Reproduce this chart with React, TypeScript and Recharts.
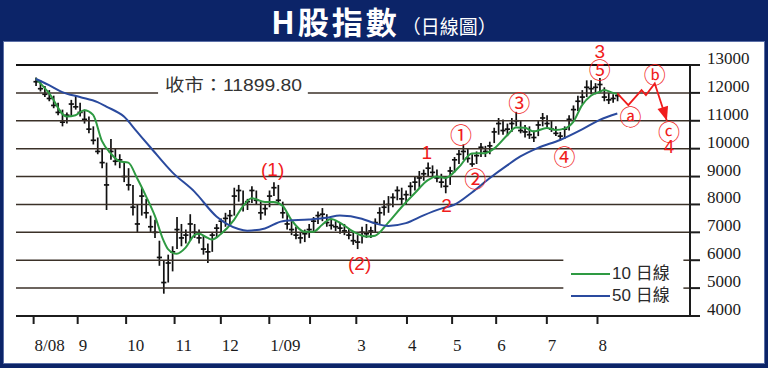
import { ComposedChart, Bar, Line, XAxis, YAxis, ReferenceLine, ReferenceDot, Legend } from 'recharts';

// x axis is counted in trading days from 1 Aug 2008
const monthT = [-1, 19, 41, 63, 84, 106, 124.5, 145.5, 168.5, 189, 209, 232, 255];
const monthLabel = ['8/08', '9', '10', '11', '12', '1/09', '', '3', '4', '5', '6', '7', '8'];
const priceTicks = [4000, 5000, 6000, 7000, 8000, 9000, 10000, 11000, 12000, 13000];

// one bar for every two trading days
const barStep = 2;
const barHigh = [
  12550, 12450, 12250, 12100, 11900, 11650, 11400, 11300, 11750, 11900,
  11650, 11400, 11150, 10800, 10400, 10000, 9500, 10350, 10000, 9800,
  9500, 9300, 8700, 8000, 8600, 8200, 7600, 7450, 6700, 6000,
  6200, 6500, 7550, 7300, 7100, 7650, 7300, 7100, 6900, 6600,
  7000, 7300, 7500, 7700, 7800, 8600, 8700, 8500, 8200, 8650,
  8500, 8100, 8000, 8500, 8800, 8700, 8100, 7700, 7400, 7200,
  7000, 7100, 7300, 7550, 7750, 7870, 7650, 7450, 7400, 7350,
  7300, 7150, 7000, 6900, 7200, 7300, 7200, 7500, 7900, 8150,
  8300, 8400, 8650, 8600, 8500, 8800, 9000, 9200, 9250, 9500,
  9400, 9250, 9100, 8950, 9350, 9700, 9950, 10150, 10000, 9800,
  9900, 10200, 10100, 10250, 10750, 11100, 11050, 10900, 11100, 11320,
  11000, 10850, 10800, 10650, 11000, 11280, 11200, 11000, 10800, 10600,
  10800, 11200, 11550, 11900, 12100, 12450, 12450, 12350, 12530, 12200,
  12000, 11950, 12000,
];
const barLow = [
  12250, 12050, 11850, 11700, 11450, 11200, 10800, 10900, 11150, 11400,
  11150, 10900, 10550, 10150, 9800, 9300, 7800, 9600, 9400, 9300,
  8800, 8500, 7600, 7000, 7600, 7500, 7000, 6800, 5800, 4800,
  5200, 5600, 6400, 6500, 6600, 6700, 6800, 6600, 6200, 5900,
  6300, 6800, 7000, 7200, 7300, 7600, 8100, 7750, 7800, 8050,
  8000, 7450, 7600, 7900, 8300, 8000, 7500, 7100, 6900, 6750,
  6600, 6650, 6800, 7000, 7300, 7400, 7200, 7100, 7050, 6950,
  6900, 6750, 6550, 6400, 6600, 6800, 6800, 7000, 7300, 7600,
  7700, 7900, 8150, 8000, 8000, 8300, 8500, 8600, 8850, 9000,
  9000, 8800, 8600, 8400, 8700, 9150, 9450, 9600, 9500, 9350,
  9450, 9700, 9700, 9800, 10200, 10500, 10500, 10450, 10600, 10800,
  10550, 10400, 10350, 10240, 10450, 10800, 10750, 10600, 10450, 10300,
  10350, 10650, 11000, 11350, 11600, 11850, 11950, 11950, 12000, 11700,
  11600, 11650, 11700,
];
const barClose = [
  12400, 12150, 11950, 11800, 11550, 11300, 10950, 11200, 11600, 11500,
  11300, 11050, 10700, 10300, 9900, 9500, 8700, 9900, 9550, 9600,
  9000, 8700, 7900, 7300, 8300, 7700, 7200, 7000, 6100, 5200,
  5900, 6300, 7100, 6800, 6900, 7300, 7000, 6800, 6400, 6300,
  6900, 7150, 7400, 7500, 7600, 8300, 8500, 8000, 8100, 8500,
  8150, 7700, 7850, 8300, 8600, 8150, 7700, 7300, 7100, 6900,
  6800, 6950, 7100, 7400, 7600, 7650, 7350, 7250, 7200, 7150,
  7050, 6900, 6700, 6650, 7000, 6950, 7050, 7350, 7700, 7900,
  8000, 8250, 8500, 8200, 8350, 8650, 8800, 8950, 9100, 9300,
  9150, 8950, 8800, 8650, 9200, 9600, 9800, 9900, 9650, 9450,
  9750, 10050, 9900, 10100, 10600, 10900, 10650, 10700, 10900, 11000,
  10650, 10600, 10500, 10400, 10850, 11100, 10900, 10700, 10550, 10450,
  10700, 11050, 11400, 11700, 11850, 12200, 12150, 12200, 12300, 11850,
  11750, 11800, 11900,
];

// 10-day average
const ma10T = [0, 6, 14, 18, 22, 26, 30, 34, 38, 42, 46, 50, 54, 58, 60, 64, 68, 72, 74, 78, 80, 84, 90, 94, 98, 104, 108, 112, 116, 122, 126, 130, 134, 138, 144, 150, 154, 160, 166, 172, 178, 182, 186, 192, 198, 204, 208, 214, 218, 222, 226, 232, 236, 240, 244, 248, 252, 256, 258, 262, 264];
const ma10V = [12520, 11990, 11150, 11200, 11380, 11210, 10280, 9830, 9550, 9500, 8940, 8300, 7600, 6700, 6400, 6230, 6450, 6900, 6950, 6800, 6740, 6940, 7450, 7930, 8220, 8090, 8090, 7950, 7450, 7020, 7020, 7270, 7480, 7350, 7030, 6850, 6880, 7350, 7900, 8400, 8870, 9000, 8950, 9330, 9830, 9840, 10000, 10480, 10760, 10750, 10620, 10740, 10670, 10720, 10960, 11560, 11900, 12040, 12100, 12000, 11960];

// 50-day average
const ma50T = [0, 6, 12, 20, 28, 32, 40, 46, 52, 62, 72, 82, 92, 96, 104, 112, 124, 132, 138, 148, 154, 160, 168, 176, 184, 190, 198, 206, 214, 220, 228, 238, 248, 256, 264];
const ma50V = [12500, 12280, 12030, 11850, 11670, 11510, 11150, 10600, 10050, 9150, 8460, 7570, 7120, 7060, 7140, 7400, 7460, 7520, 7600, 7490, 7320, 7230, 7330, 7610, 7850, 7990, 8430, 8940, 9400, 9720, 10030, 10310, 10690, 11030, 11260];

// projected a-b-c wave (red)
const waveT = [264, 269, 275, 277, 281, 286.5];
const waveV = [11980, 11560, 12100, 11920, 12340, 11000];

// wave count marks
const noteT = [256, 256, 281, 270, 287.5, 287.5, 219.5, 240, 193, 199.5, 177.5, 186.5, 107.5, 147];
const noteV = [13480, 12890, 12730, 11210, 10670, 10080, 11710, 9770, 10560, 8970, 9850, 7950, 9250, 5870];
const noteText = ['3', '⑤', 'ⓑ', 'ⓐ', 'ⓒ', '4', '③', '④', '①', '②', '1', '2', '(1)', '(2)'];

const closeText = '收市：11899.80';
const closeT = 58.7;
const closeV = 12280;

const INK = '#1c1c1c';
const GRID = '#3b3128';
const RED = '#f01c1c';
const GREEN = '#2e9a42';
const BLUE = '#2a4a9e';
const SANS = "'Liberation Sans', 'Noto Sans CJK TC', sans-serif";
const SERIF = "'Liberation Serif', serif";
const CJK = "'Noto Sans CJK TC', 'Noto Sans CJK SC', sans-serif";

type Row = { t: number; r?: [number, number]; c?: number; ma10?: number; ma50?: number; wave?: number };

const rows = new Map<number, Row>();
const rowAt = (t: number) => {
  if (!rows.has(t)) rows.set(t, { t });
  return rows.get(t)!;
};
barClose.forEach((c, i) => {
  const row = rowAt(i * barStep);
  row.r = [barLow[i], barHigh[i]];
  row.c = c;
});
ma10T.forEach((t, i) => { rowAt(t).ma10 = ma10V[i]; });
ma50T.forEach((t, i) => { rowAt(t).ma50 = ma50V[i]; });
waveT.forEach((t, i) => { rowAt(t).wave = waveV[i]; });
const data = [...rows.values()].sort((a, b) => a.t - b.t);

// high-low stick with a small cross at the close
const OhlcShape = (props: any) => {
  const { x, y, width, height, payload } = props;
  if (!payload || !payload.r || !Number.isFinite(y) || !Number.isFinite(height)) return <g />;
  const cx = x + (width || 0) / 2;
  const [lo, hi] = payload.r;
  const cy = y + ((hi - payload.c) / (hi - lo)) * height;
  return (
    <g stroke="#111" strokeWidth={1.7}>
      <line x1={cx} y1={y} x2={cx} y2={y + height} />
      <line x1={cx - 2.6} y1={cy} x2={cx + 2.6} y2={cy} />
    </g>
  );
};

const WaveDot = (p: any) => {
  const key = `wd${p.index}`;
  if (!p.payload || p.payload.t !== waveT[waveT.length - 1] || p.cy == null) return <g key={key} />;
  return (
    <polygon
      key={key}
      points="0,0 -5.5,-14 5.5,-14"
      fill={RED}
      transform={`translate(${p.cx},${p.cy}) rotate(-17)`}
    />
  );
};

const MonthTick = (p: any) => {
  const i = monthT.indexOf(p.payload.value);
  return (
    <text x={p.x + 1} y={p.y + 25} fontSize={17} fontFamily={SERIF} fill={INK}>
      {monthLabel[i]}
    </text>
  );
};

const PriceTick = (p: any) => (
  <text x={p.x + 5} y={p.y - 1} fontSize={17} fontFamily={SERIF} fill={INK}>
    {p.payload.value}
  </text>
);

const NoteMark = ({ cx, cy, text }: { cx: number; cy: number; text: string }) => {
  const circled = /[\u2460-\u24ff]/.test(text);
  return (
    <text
      x={cx}
      y={cy}
      textAnchor="middle"
      dominantBaseline="central"
      fontSize={circled ? 22 : 19}
      fontFamily={circled ? CJK : SANS}
      fill={RED}
    >
      {text}
    </text>
  );
};

const renderLegend = (props: any) => (
  <div>
    {(props.payload || [])
      .filter((e: any) => e.type !== 'none')
      .map((e: any) => (
        <div key={e.value} style={{ display: 'flex', alignItems: 'center', height: 22 }}>
          <span style={{ display: 'inline-block', width: 39, height: 2, background: e.color, marginRight: 2 }} />
          <span style={{ fontSize: 17, lineHeight: '22px', color: '#2a2a2a', fontFamily: SANS }}>{e.value}</span>
        </div>
      ))}
  </div>
);

const fullGrid = [7000, 8000, 9000, 10000, 11000];

export default function App() {
  return (
    <div style={{ position: 'absolute', left: 0, top: 0, width: 768, height: 368, background: '#0c2468', overflow: 'hidden' }}>
      <div
        style={{
          position: 'absolute', left: 3, top: 41, width: 762, height: 323,
          background: '#fff', boxShadow: 'inset 0 0 0 1px #5b6fa6',
        }}
      />
      <div
        style={{
          position: 'absolute', left: 0, top: 5, width: 768, textAlign: 'center',
          whiteSpace: 'nowrap', color: '#fff', fontFamily: CJK, fontSize: 31, lineHeight: '32px',
        }}
      >
        <span style={{ fontWeight: 700, letterSpacing: 3 }}>H股指數</span>
        <span style={{ fontSize: 19, marginLeft: 2 }}>（日線圖）</span>
      </div>
      <div style={{ position: 'absolute', left: 0, top: 0 }}>
        <ComposedChart width={768} height={368} data={data} margin={{ top: 65, right: 8, bottom: 12, left: 16 }}>
          <XAxis
            type="number"
            dataKey="t"
            domain={[-9, 297]}
            ticks={monthT}
            interval={0}
            allowDataOverflow
            height={40}
            tickSize={8}
            axisLine={{ stroke: INK, strokeWidth: 2 }}
            tickLine={{ stroke: INK, strokeWidth: 2 }}
            tick={<MonthTick />}
          />
          <YAxis
            yAxisId="l"
            orientation="left"
            type="number"
            domain={[4000, 13000]}
            width={0}
            tick={false}
            tickLine={false}
            axisLine={{ stroke: INK, strokeWidth: 2 }}
          />
          <YAxis
            yAxisId="r"
            orientation="right"
            type="number"
            domain={[4000, 13000]}
            ticks={priceTicks}
            interval={0}
            allowDataOverflow
            width={70}
            tickSize={10}
            axisLine={{ stroke: INK, strokeWidth: 2 }}
            tickLine={{ stroke: INK, strokeWidth: 2 }}
            tick={<PriceTick />}
          />

          {fullGrid.map((v) => (
            <ReferenceLine key={v} yAxisId="r" y={v} stroke={GRID} strokeWidth={1.5} />
          ))}
          <ReferenceLine yAxisId="r" y={13000} stroke="#111" strokeWidth={2} />
          <ReferenceLine yAxisId="r" segment={[{ x: -9, y: 12000 }, { x: 55.5, y: 12000 }]} stroke={GRID} strokeWidth={1.5} />
          <ReferenceLine yAxisId="r" segment={[{ x: 123.5, y: 12000 }, { x: 297, y: 12000 }]} stroke={GRID} strokeWidth={1.5} />
          {[6000, 5000].map((v) => (
            <ReferenceLine key={`a${v}`} yAxisId="r" segment={[{ x: -9, y: v }, { x: 239.5, y: v }]} stroke={GRID} strokeWidth={1.5} />
          ))}
          {[6000, 5000].map((v) => (
            <ReferenceLine key={`b${v}`} yAxisId="r" segment={[{ x: 294, y: v }, { x: 297, y: v }]} stroke={GRID} strokeWidth={1.5} />
          ))}

          <Bar yAxisId="r" dataKey="r" shape={OhlcShape} legendType="none" isAnimationActive={false} />
          <Line
            yAxisId="r"
            dataKey="ma10"
            name="10 日線"
            type="monotone"
            stroke={GREEN}
            strokeWidth={2}
            dot={false}
            connectNulls
            isAnimationActive={false}
          />
          <Line
            yAxisId="r"
            dataKey="ma50"
            name="50 日線"
            type="monotone"
            stroke={BLUE}
            strokeWidth={2}
            dot={false}
            connectNulls
            isAnimationActive={false}
          />
          <Line
            yAxisId="r"
            dataKey="wave"
            type="linear"
            stroke={RED}
            strokeWidth={1.8}
            dot={WaveDot}
            connectNulls
            legendType="none"
            isAnimationActive={false}
          />

          {noteText.map((s, i) => (
            <ReferenceDot
              key={`n${i}`}
              yAxisId="r"
              x={noteT[i]}
              y={noteV[i]}
              r={0}
              ifOverflow="visible"
              shape={(p: any) => <NoteMark cx={p.cx} cy={p.cy} text={s} />}
            />
          ))}
          <ReferenceDot
            yAxisId="r"
            x={closeT}
            y={closeV}
            r={0}
            ifOverflow="visible"
            shape={(p: any) => (
              <text
                x={p.cx}
                y={p.cy}
                dominantBaseline="central"
                fontSize={17}
                fontFamily={SANS}
                fill="#333"
                textLength={137}
                lengthAdjust="spacingAndGlyphs"
              >
                {closeText}
              </text>
            )}
          />

          <Legend
            layout="vertical"
            align="center"
            verticalAlign="middle"
            content={renderLegend}
            wrapperStyle={{ position: 'absolute', left: 571, top: 262.5, width: 120, margin: 0 }}
          />
        </ComposedChart>
      </div>
    </div>
  );
}
